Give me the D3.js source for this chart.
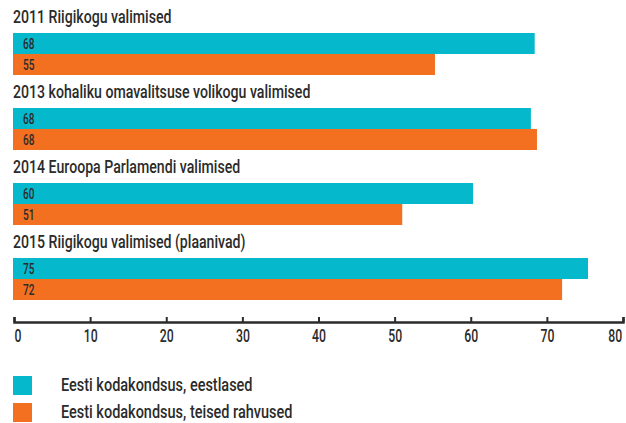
<!DOCTYPE html>
<html>
<head>
<meta charset="utf-8">
<script src="https://cdn.jsdelivr.net/npm/d3@7"></script>
<style>
  body { margin: 0; background: #fff; }
  text { font-family: Roboto, "Open Sans", sans-serif; font-weight: 500; fill: #2b2b2b; }
</style>
</head>
<body>
<div id="chart"></div>
<script>
var elections = [
  '2011 Riigikogu valimised',
  '2013 kohaliku omavalitsuse volikogu valimised',
  '2014 Euroopa Parlamendi valimised',
  '2015 Riigikogu valimised (plaanivad)'
];
var series = [ 'Eesti kodakondsus, eestlased', 'Eesti kodakondsus, teised rahvused' ];
var estonians = [ 68.4, 67.9, 60.3, 75.4 ];
var estoniansLabels = [ '68', '68', '60', '75' ];
var others = [ 55.3, 68.7, 51.0, 72.0 ];
var othersLabels = [ '55', '68', '51', '72' ];
var ticks = [ 0, 10, 20, 30, 40, 50, 60, 70, 80 ];

var WIDTH = 626;
var HEIGHT = 423;
var COLORS = [ '#05b8cc', '#f37021' ];
// no condensed font installed, so squeeze text horizontally
var SQUEEZE = 0.785;

var x = d3.scaleLinear()
  .domain([0, 80])
  .range([14, 623]);

var y = d3.scaleBand()
  .domain(elections)
  .range([0, 300]);

var svg = d3.select('#chart')
  .append('svg')
    .attr('width', WIDTH)
    .attr('height', HEIGHT);

var groups = svg.selectAll('g.group')
  .data(elections)
  .enter().append('g')
    .attr('class', 'group')
    .attr('transform', function(d) { return 'translate(0,' + y(d) + ')'; });

groups.append('text')
  .attr('transform', 'translate(13,23) scale(' + SQUEEZE + ',1)')
  .style('font-size', '18px')
  .text(function(d) { return d; });

var rows = [
  { values: estonians, labels: estoniansLabels, top: 33 },
  { values: others, labels: othersLabels, top: 54 }
];

rows.forEach(function(row, r) {
  groups.append('rect')
    .attr('x', x(0) - 1)
    .attr('y', row.top)
    .attr('width', function(d, i) { return x(row.values[i]) - x(0) + 1; })
    .attr('height', 21)
    .attr('fill', COLORS[r]);

  groups.append('text')
    .attr('transform', 'translate(23,' + (row.top + 15.5) + ') scale(0.72,1)')
    .style('font-size', '14px')
    .attr('fill', '#333')
    .text(function(d, i) { return row.labels[i]; });
});

var xAxis = d3.axisBottom(x)
  .tickValues(ticks)
  .tickSizeInner(-5)
  .tickSizeOuter(-5)
  .tickPadding(7);

var axis = svg.append('g')
  .attr('class', 'x axis')
  .attr('transform', 'translate(0,' + 322 + ')')
  .call(xAxis);

axis.select('.domain').attr('stroke', '#2b2b2b').attr('stroke-width', 2.5);
axis.selectAll('.tick line').attr('stroke', '#2b2b2b').attr('stroke-width', 2);
axis.selectAll('.tick text')
  .attr('font-family', null)
  .attr('font-size', null)
  .style('font-size', '18px')
  .attr('fill', '#2b2b2b')
  .attr('transform', 'scale(0.68,1)');
axis.selectAll('.tick text')
  .filter(function(d) { return d === 0; })
  .attr('text-anchor', 'start');
axis.selectAll('.tick text')
  .filter(function(d) { return d === 80; })
  .attr('text-anchor', 'end')
  .attr('x', -2);

var legend = svg.selectAll('g.legend')
  .data(series)
  .enter().append('g')
    .attr('class', 'legend')
    .attr('transform', function(d, i) { return 'translate(13,' + (376 + i * 27) + ')'; });

legend.append('rect')
  .attr('width', 19)
  .attr('height', 19)
  .attr('fill', function(d, i) { return COLORS[i]; });

legend.append('text')
  .attr('transform', 'translate(48,14.5) scale(0.805,1)')
  .style('font-size', '18px')
  .text(function(d) { return d; });
</script>
</body>
</html>
